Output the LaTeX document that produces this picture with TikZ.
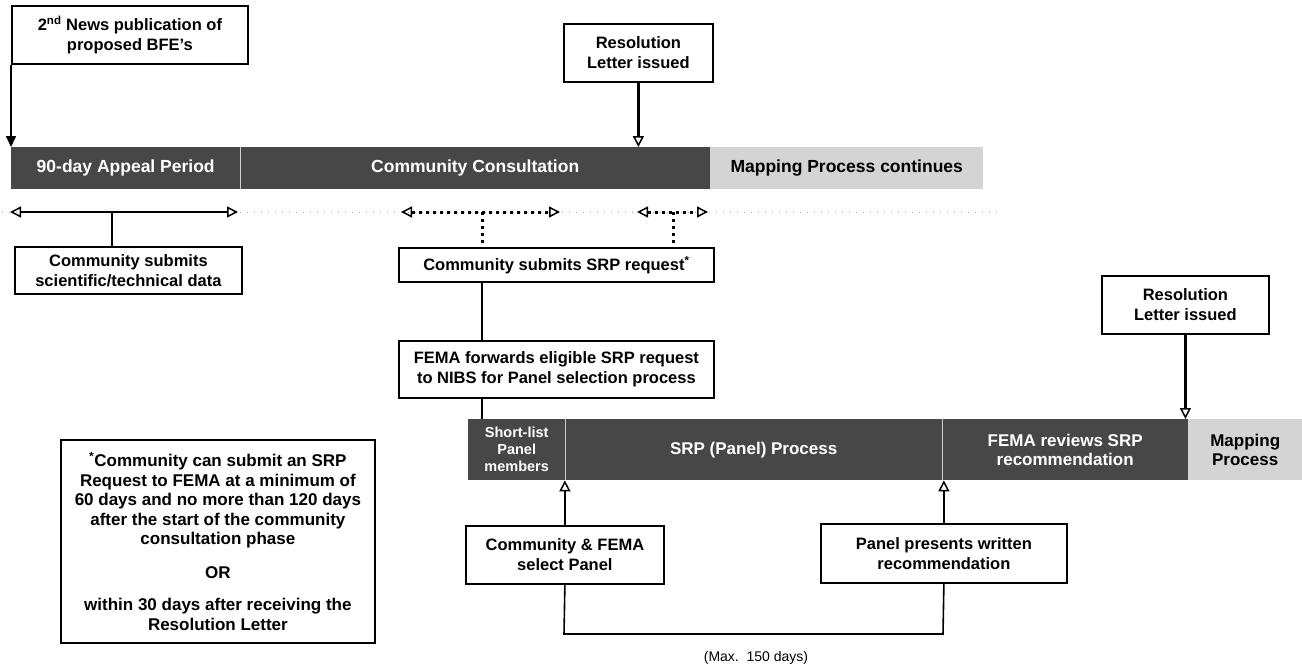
\documentclass[tikz,border=0pt]{standalone}
\usepackage{fontspec}
\setmainfont{Liberation Sans}
\usetikzlibrary{arrows.meta}
\begin{document}
\begin{tikzpicture}[x=1pt,y=-1pt,
  box/.style={draw, line width=1.8pt, align=center, anchor=north west, inner sep=0pt,
    font=\bfseries\fontsize{16.5}{20}\selectfont},
  darkbar/.style={fill=black!72, anchor=north west, inner sep=0pt, align=center,
    text=white, font=\bfseries\fontsize{17.5}{19}\selectfont},
  lightbar/.style={fill=black!17, anchor=north west, inner sep=0pt, align=center,
    text=black, font=\bfseries\fontsize{17.5}{19}\selectfont},
  sep/.style={white!80!black, line width=1pt},
  conn/.style={line width=1.6pt},
  heavy/.style={line width=3pt},
  dots/.style={line width=3pt, dash pattern=on 3pt off 4pt},
  opentip/.style={-{Triangle[open, length=11pt, width=11pt, line width=1.5pt]}},
  bothopen/.style={{Triangle[open, length=11pt, width=11pt, line width=1.5pt]}-{Triangle[open, length=11pt, width=11pt, line width=1.5pt]}},
]
\useasboundingbox (0,0) rectangle (1302,667);

% faint timeline
\draw[black!35, line width=0.8pt, dash pattern=on 1pt off 6pt] (2,212) -- (1000,212);

% ---------- top boxes ----------
\node[box, minimum width=236pt, minimum height=58pt] (news) at (11,5)
  {2\textsuperscript{nd} News publication of\\proposed BFE's};
\node[box, minimum width=149pt, minimum height=58pt] (res1) at (563,23)
  {Resolution\\Letter issued};

% ---------- top bar ----------
\node[darkbar, minimum width=229pt, minimum height=42pt] (appeal) at (11,147) {90-day Appeal Period};
\node[darkbar, minimum width=470pt, minimum height=42pt] (consult) at (240,147) {Community Consultation};
\node[lightbar, minimum width=273pt, minimum height=42pt] (mapc) at (710,147) {Mapping Process continues};
\draw[sep] (appeal.north east) -- (appeal.south east);

\draw[conn, -{Triangle[length=11pt, width=10pt]}] (news.south west) -- (appeal.north west);
\draw[heavy, opentip] (res1.south) -- (res1.south |- consult.north);

% ---------- timeline arrows ----------
\coordinate (t1a) at (10,212);
\coordinate (t1b) at (238,212);
\coordinate (t1m) at (112,212);
\coordinate (d1a) at (401,212);
\coordinate (d1b) at (560,212);
\coordinate (d1m) at (482,212);
\coordinate (d2a) at (637,212);
\coordinate (d2b) at (708,212);
\coordinate (d2m) at (673,212);

\draw[conn, bothopen] (t1a) -- (t1b);
\draw[dots, bothopen] (d1a) -- (d1b);
\draw[dots, bothopen] (d2a) -- (d2b);

% ---------- middle boxes ----------
\node[box, minimum width=227pt, minimum height=47pt] (sci) at (14,246)
  {Community submits\\scientific/technical data};
\node[box, minimum width=315pt, minimum height=34pt] (srp) at (398,247)
  {Community submits SRP request\textsuperscript{*}};
\node[box, minimum width=315pt, minimum height=57pt] (fema) at (398,340)
  {FEMA forwards eligible SRP request\\to NIBS for Panel selection process};
\node[box, minimum width=167pt, minimum height=58pt] (res2) at (1101,275)
  {Resolution\\Letter issued};

\draw[conn] (t1m) -- (t1m |- sci.north);
\draw[dots] (d1m) -- (d1m |- srp.north);
\draw[dots] (d2m) -- (d2m |- srp.north);
\draw[conn] (d1m |- srp.south) -- (d1m |- fema.north);

% ---------- lower bar ----------
\node[darkbar, minimum width=97pt, minimum height=61pt,
  font=\bfseries\fontsize{14.5}{17}\selectfont] (short) at (468,419) {Short-list\\Panel\\members};
\node[darkbar, minimum width=377pt, minimum height=61pt,
  font=\bfseries\fontsize{17}{19}\selectfont] (srpp) at (565,419) {SRP (Panel) Process};
\node[darkbar, minimum width=246pt, minimum height=61pt,
  font=\bfseries\fontsize{17}{19.5}\selectfont] (review) at (942,419) {FEMA reviews SRP\\recommendation};
\node[lightbar, minimum width=114pt, minimum height=61pt,
  font=\bfseries\fontsize{17}{19}\selectfont] (mapp) at (1188,419) {Mapping\\Process};
\draw[sep] (short.north east) -- (short.south east);
\draw[sep] (srpp.north east) -- (srpp.south east);

\draw[conn] (d1m |- fema.south) -- (d1m |- short.north);
\draw[heavy, opentip] (res2.south) -- (res2.south |- review.north);

% ---------- bottom boxes ----------
\node[box, minimum width=198pt, minimum height=58pt] (cf) at (465,525)
  {Community \& FEMA\\select Panel};
\node[box, minimum width=246pt, minimum height=59pt] (panel) at (820,523)
  {Panel presents written\\recommendation};

\draw[conn, opentip] (cf.north) -- (cf.north |- short.south);
\draw[conn, opentip] (panel.north) -- (panel.north |- srpp.south);

\coordinate (bl) at (564,634);
\coordinate (br) at (943,634);
\draw[conn] (cf.south) -- (bl) -- (br) -- (panel.south);

\node[font=\fontsize{14}{16}\selectfont] (maxd) at (756,658) {(Max.\ \ 150 days)};

% ---------- footnote ----------
\node[box, minimum width=314pt, minimum height=203pt,
  font=\bfseries\fontsize{17}{19.5}\selectfont] (note) at (60,439)
  {\textsuperscript{*}Community can submit an SRP\\
   Request to FEMA at a minimum of\\
   60 days and no more than 120 days\\
   after the start of the community\\
   consultation phase\\[14pt]
   OR\\[13pt]
   within 30 days after receiving the\\
   Resolution Letter};
\end{tikzpicture}
\end{document}
